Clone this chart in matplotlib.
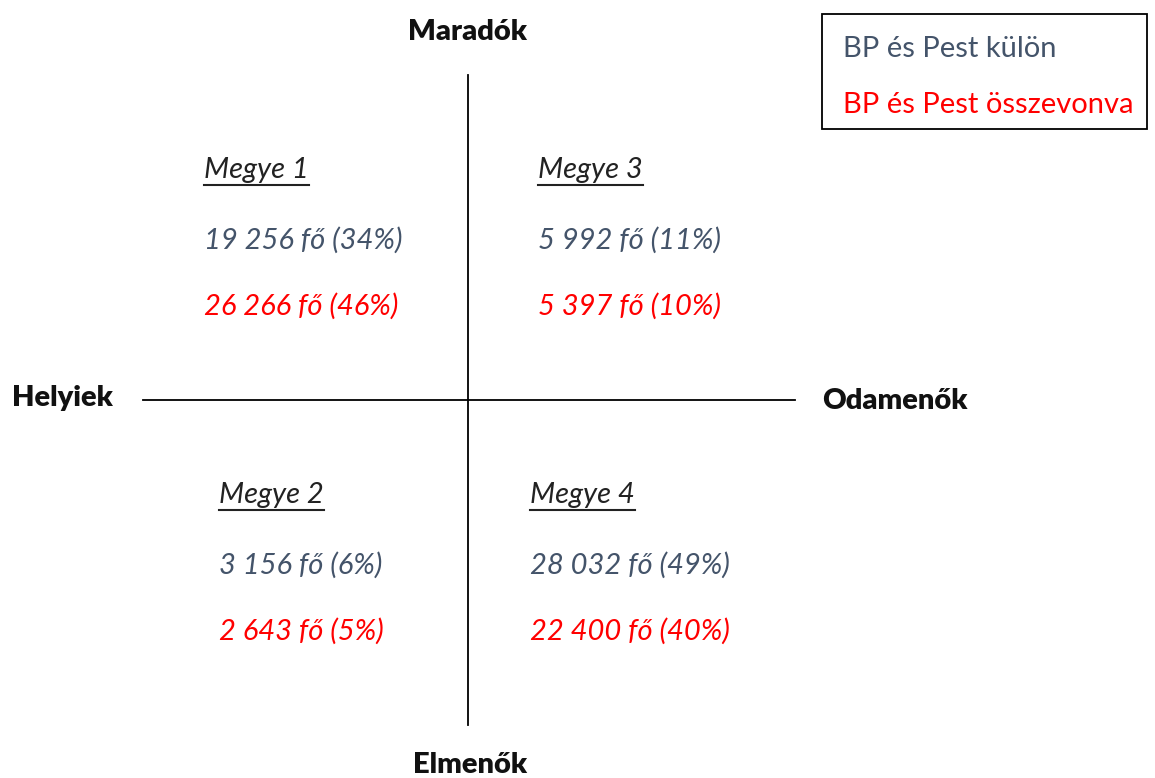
import matplotlib.pyplot as plt

# adatok
megyek = ["Megye 1", "Megye 2", "Megye 3", "Megye 4"]
kulon_fo = [19256, 3156, 5992, 28032]
kulon_pct = [34, 6, 11, 49]
ossze_fo = [26266, 2643, 5397, 22400]
ossze_pct = [46, 5, 10, 40]
tengelyek = ["Maradók", "Elmenők", "Helyiek", "Odamenők"]
jelmagyarazat = ["BP és Pest külön", "BP és Pest összevonva"]

BLUE = "#44546A"
RED = "#FF0000"
FONT = ["Lato", "DejaVu Sans"]
FS = 21


def fmt(n, p):
    return f"{n:,}".replace(",", " ") + f" fő ({p}%)"


fig = plt.figure(figsize=(11.55, 7.78), dpi=100)
ax = fig.add_axes([0, 0, 1, 1])
ax.set_xlim(0, 1155)
ax.set_ylim(778, 0)
ax.axis("off")

# kereszt
ax.plot([468, 468], [75, 725], color="black", lw=1.3)
ax.plot([143, 795], [400, 400], color="black", lw=1.3)

# tengelyfeliratok
tpos = [(468, 32, "center"), (470, 765, "center"), (12, 398, "left"), (822, 401, "left")]
for lab, (x, y, ha) in zip(tengelyek, tpos):
    ax.text(x, y, lab, ha=ha, va="center", fontsize=FS, fontweight="heavy",
            family=FONT, color="#111111")

# jelmagyarázat
ax.add_patch(plt.Rectangle((822, 14), 325, 115, fill=False, ec="black", lw=1.3))
for lab, col, y in zip(jelmagyarazat, [BLUE, RED], [49, 105]):
    ax.text(843, y, lab, ha="left", va="center", fontsize=FS, family=FONT, color=col)

# negyedek
qpos = [(204, 170), (219, 495), (538, 170), (530, 495)]
fig.canvas.draw()
r = fig.canvas.get_renderer()
for i, name in enumerate(megyek):
    x, y = qpos[i]
    t = ax.text(x, y, name, ha="left", va="center", fontsize=FS, style="italic",
                family=FONT, color="#222222")
    bb = t.get_window_extent(renderer=r)
    inv = ax.transData.inverted()
    (x0, _), (x1, _) = inv.transform([(bb.x0, 0), (bb.x1, 0)])
    ax.plot([x0, x1], [y + 15, y + 15], color="#222222", lw=1.5)
    ax.text(x, y + 70, fmt(kulon_fo[i], kulon_pct[i]), ha="left", va="center",
            fontsize=FS, style="italic", family=FONT, color=BLUE)
    ax.text(x, y + 136, fmt(ossze_fo[i], ossze_pct[i]), ha="left", va="center",
            fontsize=FS, style="italic", family=FONT, color=RED)

fig.savefig("out.png", dpi=100, facecolor="white")
